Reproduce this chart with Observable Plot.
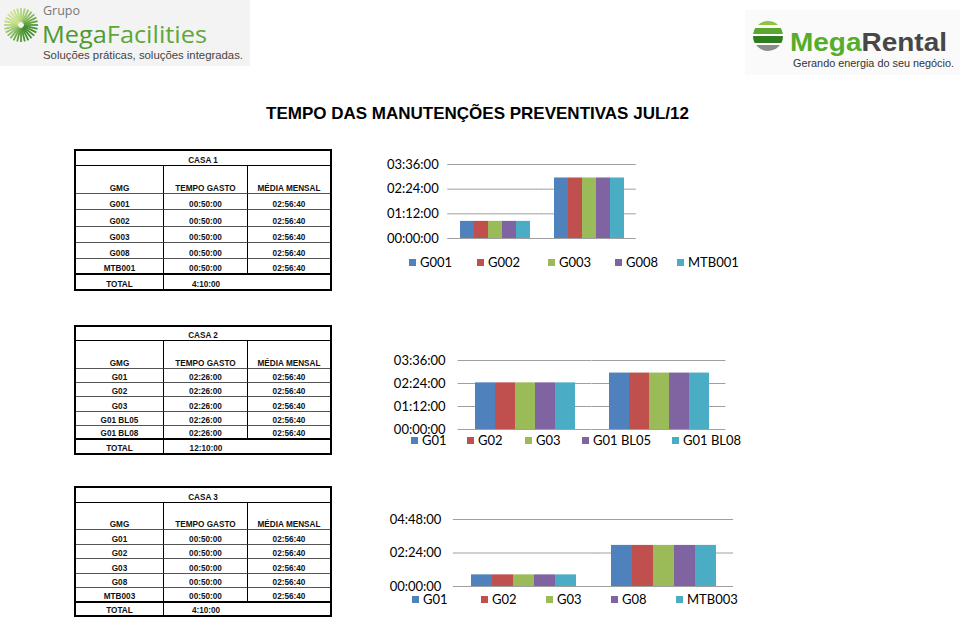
<!DOCTYPE html>
<html><head><meta charset="utf-8">
<script src="https://cdn.jsdelivr.net/npm/d3@7"></script>
<script src="https://cdn.jsdelivr.net/npm/@observablehq/plot@0.6"></script>
<style>
html,body{margin:0;padding:0;background:#fff;}
#page{position:relative;width:960px;height:621px;overflow:hidden;font-family:"Liberation Sans",Arial,sans-serif;background:#fff;}
.abs{position:absolute;}
.tbl{position:absolute;display:grid;grid-template-columns:88px 84px 82px;border:2px solid #000;box-sizing:border-box;width:258px;font-size:8.2px;font-weight:bold;color:#111;}
.tbl > div{box-sizing:border-box;display:flex;align-items:flex-end;justify-content:center;line-height:9px;white-space:nowrap;}
.title{position:absolute;left:0;width:955px;top:105px;text-align:center;font:bold 17px/17px "Liberation Sans",Arial,sans-serif;color:#000;}
.leg{position:absolute;font:13px/13px Lato,"Open Sans",sans-serif;color:#000;white-space:nowrap;}
.leg .sw{position:absolute;width:7px;height:7px;top:3px;}
.leg .tx{position:absolute;top:0;}
</style></head>
<body><div id="page">
<svg class="abs" style="left:0;top:0" width="960" height="90" id="logos">
  <rect x="0" y="0" width="250" height="66" fill="#f3f3f3"/>
  <g id="sun"></g>
  <text x="43" y="15" font-family="Open Sans, sans-serif" font-size="12.5" fill="#777">Grupo</text>
  <text x="42" y="43" font-family="Open Sans, sans-serif" font-size="24" textLength="165" lengthAdjust="spacingAndGlyphs"><tspan fill="#4f9a31">Mega</tspan><tspan fill="#5ea83b">Facilities</tspan></text>
  <text x="43" y="59" font-family="Liberation Sans, Arial, sans-serif" font-size="11.5" fill="#444" textLength="200" lengthAdjust="spacingAndGlyphs">Soluções práticas, soluções integradas.</text>
  <rect x="745" y="10" width="215" height="65" fill="#fafafa"/>
  <defs><clipPath id="ball"><circle cx="768" cy="36" r="15"/></clipPath></defs>
  <g clip-path="url(#ball)">
    <rect x="750" y="19" width="40" height="6" fill="#8cc63f"/>
    <rect x="750" y="25" width="40" height="3" fill="#fff"/>
    <rect x="750" y="28" width="40" height="6" fill="#5aa82e"/>
    <rect x="750" y="34" width="40" height="2" fill="#fff"/>
    <rect x="750" y="36" width="40" height="7" fill="#2e7d1f"/>
    <rect x="750" y="43" width="40" height="2" fill="#fff"/>
    <rect x="750" y="45" width="40" height="8" fill="#8c8c8c"/>
  </g>
  <text x="790" y="51" font-family="Liberation Sans, Arial, sans-serif" font-weight="bold" font-size="26" textLength="157" lengthAdjust="spacingAndGlyphs"><tspan fill="#56ad2c">Mega</tspan><tspan fill="#474747">Rental</tspan></text>
  <text x="793" y="67" font-family="Liberation Sans, Arial, sans-serif" font-size="11.4" fill="#333" textLength="161" lengthAdjust="spacingAndGlyphs">Gerando energia do seu negócio.</text>
</svg>
<div class="title">TEMPO DAS MANUTENÇÕES PREVENTIVAS JUL/12</div>
</div>
<script>
// ---------- DATA ----------
const title = "TEMPO DAS MANUTENÇÕES PREVENTIVAS JUL/12";
const headers = ["GMG", "TEMPO GASTO", "MÉDIA MENSAL"];

const casa1Name = "CASA 1";
const casa1Gmg = ["G001", "G002", "G003", "G008", "MTB001"];
const casa1Tempo = ["00:50:00", "00:50:00", "00:50:00", "00:50:00", "00:50:00"];
const casa1Media = ["02:56:40", "02:56:40", "02:56:40", "02:56:40", "02:56:40"];
const casa1Total = "4:10:00";
const casa1Ticks = ["00:00:00", "01:12:00", "02:24:00", "03:36:00"];

const casa2Name = "CASA 2";
const casa2Gmg = ["G01", "G02", "G03", "G01 BL05", "G01 BL08"];
const casa2Tempo = ["02:26:00", "02:26:00", "02:26:00", "02:26:00", "02:26:00"];
const casa2Media = ["02:56:40", "02:56:40", "02:56:40", "02:56:40", "02:56:40"];
const casa2Total = "12:10:00";
const casa2Ticks = ["00:00:00", "01:12:00", "02:24:00", "03:36:00"];

const casa3Name = "CASA 3";
const casa3Gmg = ["G01", "G02", "G03", "G08", "MTB003"];
const casa3Tempo = ["00:50:00", "00:50:00", "00:50:00", "00:50:00", "00:50:00"];
const casa3Media = ["02:56:40", "02:56:40", "02:56:40", "02:56:40", "02:56:40"];
const casa3Total = "4:10:00";
const casa3Ticks = ["00:00:00", "02:24:00", "04:48:00"];

const seriesColors = ["#4F81BD", "#C0504D", "#9BBB59", "#8064A2", "#4BACC6"];

// ---------- LAYOUT (styles only) ----------
const layout = [
  {table: {left: 74, top: 149, rows: [15, 28, 16.3, 16.3, 16.3, 16.3, 16.3, 13.5]},
   chart: {left: 370, top: 150, width: 380, height: 90, marginLeft: 77, marginRight: 114, marginTop: 14, marginBottom: 2, labelGap: 9, pi: 0.25, po: 0.125},
   legend: {top: 255.5, xs: [409, 477, 548, 615, 677]}},
  {table: {left: 74, top: 325, rows: [14, 28, 14.2, 14.2, 14.2, 14.2, 14.2, 13]},
   chart: {left: 360, top: 345, width: 390, height: 86, marginLeft: 98, marginRight: 24, marginTop: 15, marginBottom: 2, labelGap: 12.5, pi: 0.23, po: 0.115},
   legend: {top: 434, xs: [411, 467, 525, 582, 672]}},
  {table: {left: 74, top: 486, rows: [15, 27, 14.54, 14.54, 14.54, 14.54, 14.54, 12.6]},
   chart: {left: 380, top: 505, width: 380, height: 83, marginLeft: 73, marginRight: 27, marginTop: 14, marginBottom: 2, labelGap: 12, pi: 0.23, po: 0.115},
   legend: {top: 593, xs: [412, 481, 546, 611, 676]}}
];

const casas = [
  {name: casa1Name, gmg: casa1Gmg, tempo: casa1Tempo, media: casa1Media, total: casa1Total, ticks: casa1Ticks},
  {name: casa2Name, gmg: casa2Gmg, tempo: casa2Tempo, media: casa2Media, total: casa2Total, ticks: casa2Ticks},
  {name: casa3Name, gmg: casa3Gmg, tempo: casa3Tempo, media: casa3Media, total: casa3Total, ticks: casa3Ticks}
];

const toMin = s => { const [h, m, sec] = s.split(":").map(Number); return h * 60 + m + sec / 60; };
const page = document.getElementById("page");

// sunburst decoration of the logo
(function(){
  const g = document.getElementById("sun");
  const cx = 21, cy = 25, n = 28;
  for (let i = 0; i < n; i++) {
    const a = (i / n) * 2 * Math.PI;
    const r1 = 3, r2 = 17;
    const l = document.createElementNS("http://www.w3.org/2000/svg", "line");
    l.setAttribute("x1", cx + r1 * Math.cos(a)); l.setAttribute("y1", cy + r1 * Math.sin(a));
    l.setAttribute("x2", cx + r2 * Math.cos(a)); l.setAttribute("y2", cy + r2 * Math.sin(a));
    const t = (Math.cos(a - Math.PI * 0.25) + 1) / 2;
    l.setAttribute("stroke", d3.interpolateRgb("#c9e28a", "#3f8f2a")(t));
    l.setAttribute("stroke-width", 1.8);
    g.appendChild(l);
  }
})();

function cell(parent, text, style) {
  const d = document.createElement("div");
  d.textContent = text;
  Object.assign(d.style, style);
  parent.appendChild(d);
  return d;
}

casas.forEach((c, k) => {
  const L = layout[k];
  // ----- table -----
  const t = document.createElement("div");
  t.className = "tbl";
  t.style.left = L.table.left + "px";
  t.style.top = L.table.top + "px";
  t.style.gridTemplateRows = L.table.rows.map(r => r + "px").join(" ");
  const vr = "1px solid #000";
  cell(t, c.name, {gridColumn: "1 / span 3", borderBottom: "1px solid #000"});
  headers.forEach((h, j) => cell(t, h, {borderBottom: "1px solid #555", borderRight: j < 2 ? vr : "none"}));
  c.gmg.forEach((g, i) => {
    const last = i === c.gmg.length - 1;
    const bb = last ? "2px solid #000" : "1px solid #555";
    [g, c.tempo[i], c.media[i]].forEach((v, j) => cell(t, v, {borderBottom: bb, borderRight: j < 2 ? vr : "none"}));
  });
  cell(t, "TOTAL", {borderRight: vr});
  cell(t, c.total, {});
  cell(t, "", {});
  page.appendChild(t);

  // ----- chart -----
  const data = [];
  c.gmg.forEach((g, i) => {
    data.push({grupo: headers[1], serie: g, v: toMin(c.tempo[i])});
    data.push({grupo: headers[2], serie: g, v: toMin(c.media[i])});
  });
  const tickVals = c.ticks.map(toMin);
  const C = L.chart;
  const plotW = C.width - C.marginLeft - C.marginRight;
  const step = plotW / (2 - C.pi + 2 * C.po);
  const outer = C.po * step;          // outer band padding in px
  const halfGap = C.pi * step / 2;    // half the gap between the two clusters
  const svg = Plot.plot({
    width: C.width, height: C.height,
    marginLeft: C.marginLeft, marginRight: C.marginRight, marginTop: C.marginTop, marginBottom: C.marginBottom,
    style: {fontFamily: "Lato, 'Open Sans', sans-serif", fontSize: "13px", color: "#000", background: "transparent", overflow: "visible"},
    fx: {domain: [headers[1], headers[2]], paddingInner: C.pi, paddingOuter: C.po, axis: null, label: null},
    x: {domain: c.gmg, padding: 0, axis: null},
    y: {domain: [0, tickVals[tickVals.length - 1]], axis: null},
    color: {domain: c.gmg, range: seriesColors},
    marks: [
      Plot.ruleY(tickVals, {y: d => d, stroke: "#a0a0a0", strokeWidth: 1,
        insetLeft: -Math.max(outer, halfGap), insetRight: -Math.max(outer, halfGap)}),
      Plot.barY(data, {fx: "grupo", x: "serie", y: "v", fill: "serie", inset: 0}),
      Plot.axisY(tickVals, {tickSize: 0, tickPadding: C.labelGap + outer, tickFormat: (d) => c.ticks[tickVals.indexOf(d)],
        fontSize: 13, fill: "#000", label: null, facetAnchor: "left"})
    ]
  });
  const holder = document.createElement("div");
  holder.className = "abs";
  holder.style.left = C.left + "px";
  holder.style.top = C.top + "px";
  holder.appendChild(svg);
  page.appendChild(holder);

  // ----- legend -----
  c.gmg.forEach((g, i) => {
    const it = document.createElement("div");
    it.className = "leg";
    it.style.left = L.legend.xs[i] + "px";
    it.style.top = L.legend.top + "px";
    const sw = document.createElement("span");
    sw.className = "sw"; sw.style.left = "0px"; sw.style.background = seriesColors[i];
    const tx = document.createElement("span");
    tx.className = "tx"; tx.style.left = "11px"; tx.textContent = g;
    it.appendChild(sw); it.appendChild(tx);
    page.appendChild(it);
  });
});
</script>
</body></html>
